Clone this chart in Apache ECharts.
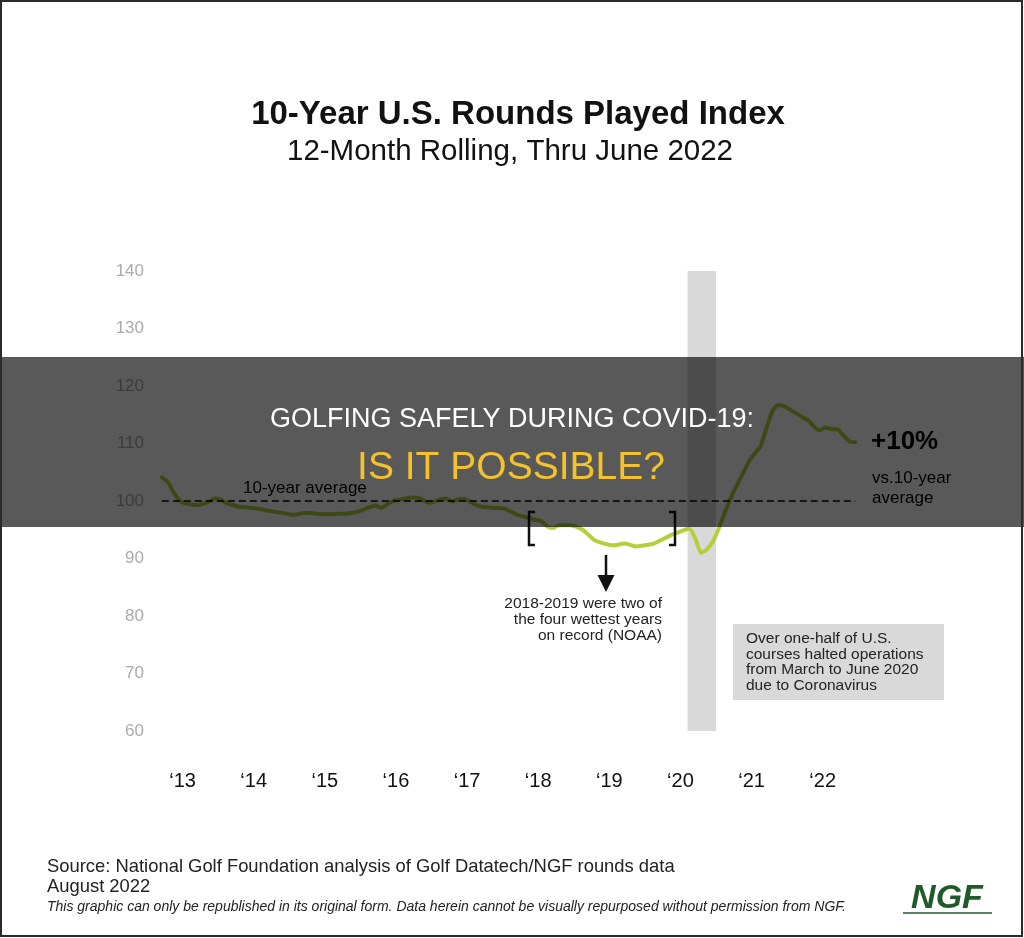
<!DOCTYPE html>
<html>
<head>
<meta charset="utf-8">
<title>10-Year U.S. Rounds Played Index</title>
<script src="https://cdn.jsdelivr.net/npm/echarts@6/dist/echarts.min.js"></script>
<style>
  html, body { margin: 0; padding: 0; background: #fff; }
  #chart { width: 1024px; height: 938px; }
</style>
</head>
<body>
<div id="chart"></div>
<script>
// 12-month rolling rounds played index, one value per month (Sep 2012 - Jun 2022)
const index2012 = [104.1, 103.3, 101.5, 100.1]; // Sep-Dec
const index2013 = [99.6, 99.4, 99.3, 99.5, 99.9, 100.5, 100.2, 99.6, 99.3, 99.0, 98.9, 98.8];
const index2014 = [98.7, 98.5, 98.3, 98.1, 98.0, 97.8, 97.6, 97.7, 97.9, 97.9, 97.8, 97.7];
const index2015 = [97.7, 97.7, 97.8, 97.8, 97.9, 98.1, 98.5, 98.9, 99.2, 98.8, 99.4, 100.0];
const index2016 = [100.2, 100.4, 100.6, 100.6, 100.2, 99.7, 99.9, 100.3, 100.4, 99.9, 100.3, 100.4];
const index2017 = [99.9, 99.3, 99.0, 98.9, 98.8, 98.8, 98.6, 98.1, 97.6, 97.3, 97.0, 96.7];
const index2018 = [96.5, 95.6, 95.3, 95.8, 95.8, 95.8, 95.5, 95.0, 94.1, 93.2, 92.8, 92.5];
const index2019 = [92.3, 92.4, 92.6, 92.4, 92.1, 92.2, 92.4, 92.6, 93.1, 93.6, 94.1, 94.5];
const index2020 = [94.9, 95.2, 93.5, 91.0, 91.6, 93.0, 95.3, 98.0, 100.5, 102.7, 104.7, 106.8];
const index2021 = [108.2, 109.5, 112.6, 115.6, 116.7, 116.5, 115.9, 115.3, 114.6, 114.1, 113.0, 112.3];
const index2022 = [112.8, 112.5, 112.5, 111.4, 110.4, 110.2]; // Jan-Jun

const yearLabels = [2013, 2014, 2015, 2016, 2017, 2018, 2019, 2020, 2021, 2022];
const average = 100;
const covidClosure = [2020.1, 2020.5]; // courses halted, Mar-Jun 2020

// build [x, value] pairs, x = year + month position
let seriesData = [];
function addYear(year, firstMonth, values) {
  values.forEach((v, i) => {
    seriesData.push([year + (firstMonth + i - 0.5) / 12, v]);
  });
}
addYear(2012, 9, index2012);
addYear(2013, 1, index2013);
addYear(2014, 1, index2014);
addYear(2015, 1, index2015);
addYear(2016, 1, index2016);
addYear(2017, 1, index2017);
addYear(2018, 1, index2018);
addYear(2019, 1, index2019);
addYear(2020, 1, index2020);
addYear(2021, 1, index2021);
addYear(2022, 1, index2022);

const firstX = seriesData[0][0];
const lastX = seriesData[seriesData.length - 1][0];
const font = "'Liberation Sans', Arial, sans-serif";

let myChart = echarts.init(document.getElementById('chart'));

let option = {
  backgroundColor: '#fff',
  animation: false,
  grid: { left: 147, top: 271, width: 729, height: 460 },
  xAxis: {
    type: 'value',
    min: 2012.5,
    max: 2022.75,
    axisLine: { show: false },
    axisTick: { show: false },
    splitLine: { show: false },
    axisLabel: {
      customValues: yearLabels,
      formatter: v => '\u2018' + String(v).slice(2),
      color: '#111',
      fontSize: 20,
      fontFamily: font,
      margin: 40
    }
  },
  yAxis: {
    type: 'value',
    min: 60,
    max: 140,
    interval: 10,
    axisLine: { show: false },
    axisTick: { show: false },
    splitLine: { show: false },
    axisLabel: { color: '#ababab', fontSize: 17, fontFamily: font, margin: 3 }
  },
  series: [{
    type: 'line',
    data: seriesData,
    showSymbol: false,
    smooth: 0.2,
    lineStyle: { color: '#b3cf3b', width: 4, cap: 'round' },
    markArea: {
      silent: true,
      itemStyle: { color: '#d9d9d9' },
      data: [[{ coord: [covidClosure[0], 140] }, { coord: [covidClosure[1], 60] }]]
    },
    markLine: {
      silent: true,
      symbol: 'none',
      label: { show: false },
      lineStyle: { color: '#000', width: 1.5, type: [7, 4] },
      data: [[{ coord: [firstX, average] }, { coord: [lastX, average] }]]
    }
  }],
  graphic: [
    // titles
    { type: 'text', x: 518, y: 115, z: 10,
      style: { text: '10-Year U.S. Rounds Played Index', fontSize: 33, fontWeight: 'bold', fontFamily: font, fill: '#111', align: 'center', verticalAlign: 'middle' } },
    { type: 'text', x: 510, y: 152, z: 10,
      style: { text: '12-Month Rolling, Thru June 2022', fontSize: 29.5, fontFamily: font, fill: '#111', align: 'center', verticalAlign: 'middle' } },
    // annotations
    { type: 'text', x: 243, y: 488, z: 10,
      style: { text: '10-year average', fontSize: 17, fontFamily: font, fill: '#000', align: 'left', verticalAlign: 'middle' } },
    { type: 'text', x: 871, y: 442, z: 10,
      style: { text: '+10%', fontSize: 26, fontWeight: 'bold', fontFamily: font, fill: '#000', align: 'left', verticalAlign: 'middle' } },
    { type: 'text', x: 872, y: 468, z: 10,
      style: { text: 'vs.10-year\naverage', fontSize: 17, lineHeight: 20, fontFamily: font, fill: '#000', align: 'left', verticalAlign: 'top' } },
    { type: 'polyline', z: 10, shape: { points: [[535, 512], [529, 512], [529, 545], [535, 545]] },
      style: { stroke: '#111', lineWidth: 2.5, fill: 'none' } },
    { type: 'polyline', z: 10, shape: { points: [[669, 512], [675, 512], [675, 545], [669, 545]] },
      style: { stroke: '#111', lineWidth: 2.5, fill: 'none' } },
    { type: 'line', z: 10, shape: { x1: 606, y1: 555, x2: 606, y2: 578 },
      style: { stroke: '#111', lineWidth: 2.5 } },
    { type: 'polygon', z: 10, shape: { points: [[597.5, 575], [614.5, 575], [606, 592]] },
      style: { fill: '#111' } },
    { type: 'text', x: 662, y: 596, z: 10,
      style: { text: '2018-2019 were two of\nthe four wettest years\non record (NOAA)', fontSize: 15.5, lineHeight: 16, fontFamily: font, fill: '#222', align: 'right', verticalAlign: 'top' } },
    { type: 'rect', z: 10, shape: { x: 733, y: 624, width: 211, height: 76 },
      style: { fill: '#d9d9d9' } },
    { type: 'text', x: 746, y: 631, z: 11,
      style: { text: 'Over one-half of U.S.\ncourses halted operations\nfrom March to June 2020\ndue to Coronavirus', fontSize: 15.5, lineHeight: 15.5, fontFamily: font, fill: '#222', align: 'left', verticalAlign: 'top' } },
    // footer
    { type: 'text', x: 47, y: 867, z: 10,
      style: { text: 'Source: National Golf Foundation analysis of Golf Datatech/NGF rounds data', fontSize: 18.4, fontFamily: font, fill: '#222', align: 'left', verticalAlign: 'middle' } },
    { type: 'text', x: 47, y: 887, z: 10,
      style: { text: 'August 2022', fontSize: 18.4, fontFamily: font, fill: '#222', align: 'left', verticalAlign: 'middle' } },
    { type: 'text', x: 47, y: 907, z: 10,
      style: { text: 'This graphic can only be republished in its original form. Data herein cannot be visually repurposed without permission from NGF.', fontSize: 14, fontStyle: 'italic', fontFamily: font, fill: '#222', align: 'left', verticalAlign: 'middle' } },
    { type: 'text', x: 947, y: 899, z: 10,
      style: { text: 'NGF', fontSize: 34, fontWeight: 'bold', fontStyle: 'italic', fontFamily: font, fill: '#1f5a2a', align: 'center', verticalAlign: 'middle' } },
    { type: 'line', z: 10, shape: { x1: 903, y1: 913, x2: 992, y2: 913 },
      style: { stroke: '#1f5a2a', lineWidth: 1.5 } },
    // banner overlay
    { type: 'rect', z: 50, shape: { x: 0, y: 357, width: 1024, height: 170 },
      style: { fill: 'rgba(0,0,0,0.65)' } },
    { type: 'text', x: 512, y: 420, z: 51,
      style: { text: 'GOLFING SAFELY DURING COVID-19:', fontSize: 27, fontFamily: font, fill: '#fff', align: 'center', verticalAlign: 'middle' } },
    { type: 'text', x: 511, y: 468, z: 51,
      style: { text: 'IS IT POSSIBLE?', fontSize: 39, fontFamily: font, fill: '#f4c22b', align: 'center', verticalAlign: 'middle' } },
    // frame
    { type: 'rect', z: 60, shape: { x: 1, y: 1, width: 1021, height: 935 },
      style: { fill: 'none', stroke: '#2b2b2b', lineWidth: 2 } }
  ]
};
myChart.setOption(option);
</script>
</body>
</html>
